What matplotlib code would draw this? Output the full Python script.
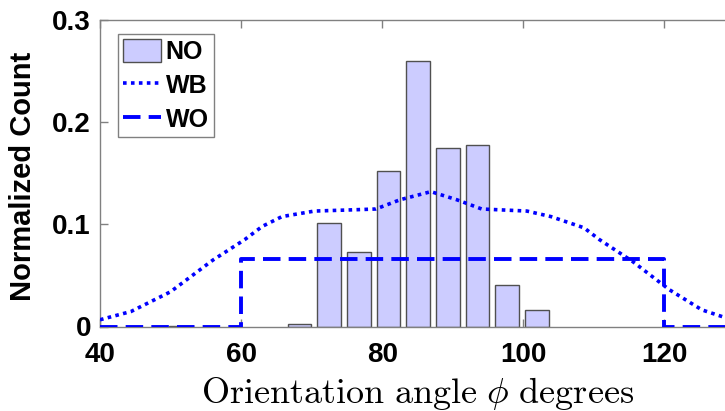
import matplotlib
matplotlib.use("Agg")
import matplotlib.pyplot as plt
from matplotlib import font_manager
import numpy as np

# ---------------- data ----------------
no_centers = [51.5, 68.3, 72.5, 76.7, 80.9, 85.1, 89.3, 93.5, 97.7, 101.9]
no_values = [0.0008, 0.0023, 0.101, 0.073, 0.152, 0.260, 0.175, 0.178, 0.041, 0.016]

wb_x = [40, 44.4, 50, 56, 60.5, 63, 65.8, 70.4, 75, 79.1, 82.5, 86.9, 90.6, 94.1,
        100.5, 103.9, 108.6, 110.8, 115.5, 120.7, 125.3, 130]
wb_y = [0.0066, 0.0147, 0.034, 0.065, 0.085, 0.098, 0.1076, 0.113, 0.114, 0.115,
        0.124, 0.132, 0.124, 0.115, 0.113, 0.1076, 0.0966, 0.085, 0.0636, 0.036,
        0.0163, 0.0055]

wo_x = [40, 60, 60, 120, 120, 130]
wo_y = [0, 0, 0.066, 0.066, 0, 0]

x_ticks = [40, 60, 80, 100, 120]
y_ticks = [0, 0.1, 0.2, 0.3]
y_ticklabels = ["0", "0.1", "0.2", "0.3"]

# ---------------- style ----------------
sans = "Liberation Sans"
plt.rcParams["mathtext.fontset"] = "cm"

W, H = 725, 411
fig = plt.figure(figsize=(W / 100, H / 100), dpi=100)
ax = fig.add_axes([100 / W, 1 - 326.5 / H, 635 / W, 306.5 / H])

h_no = ax.bar(no_centers, no_values, width=3.35, color="#CCCCFF", edgecolor="#505050",
              linewidth=1.0, label="NO", zorder=2)
h_wb, = ax.plot(wb_x, wb_y, color="#0000FF", linestyle=(0, (1, 1.2)), linewidth=2.6,
                label="WB", zorder=3)
h_wo, = ax.plot(wo_x, wo_y, color="#0000FF", linestyle=(0, (4.5, 2.1)), linewidth=2.8,
                label="WO", zorder=3)

ax.set_xlim(40, 130)
ax.set_ylim(0, 0.3)
ax.set_xticks(x_ticks)
ax.set_yticks(y_ticks)
ax.set_yticklabels(y_ticklabels)

for s in ax.spines.values():
    s.set_color("#808080")
    s.set_linewidth(1.0)
ax.tick_params(direction="in", length=6, width=1, color="#808080",
               top=True, right=False, labelsize=20)
ax.tick_params(axis="x", pad=11)
ax.tick_params(axis="y", pad=6.5)
for lab in ax.get_xticklabels() + ax.get_yticklabels():
    lab.set_fontfamily(sans)
    lab.set_fontweight("bold")

fig.text(23 / W, 1 - 176.5 / H, "Normalized Count", rotation=90, fontsize=21,
         fontweight="bold", family=sans, ha="center", va="center")
fig.text(417.5 / W, 1 - 403 / H,
         r"$\mathrm{Orientation\ angle}\ \phi\ \mathrm{degrees}$",
         fontsize=26, ha="center", va="baseline")

leg = ax.legend([h_no, h_wb, h_wo], ["NO", "WB", "WO"],
                loc="upper left", bbox_to_anchor=(0.0285, 0.954), borderaxespad=0,
                prop={"family": sans, "weight": "bold", "size": 18},
                handlelength=1.5, handleheight=1.05, handletextpad=0.2,
                labelspacing=0.35, borderpad=0.2, fancybox=False, framealpha=1)
leg.get_frame().set_edgecolor("#808080")
leg.get_frame().set_linewidth(1.0)

fig.savefig("out.png", dpi=100)
